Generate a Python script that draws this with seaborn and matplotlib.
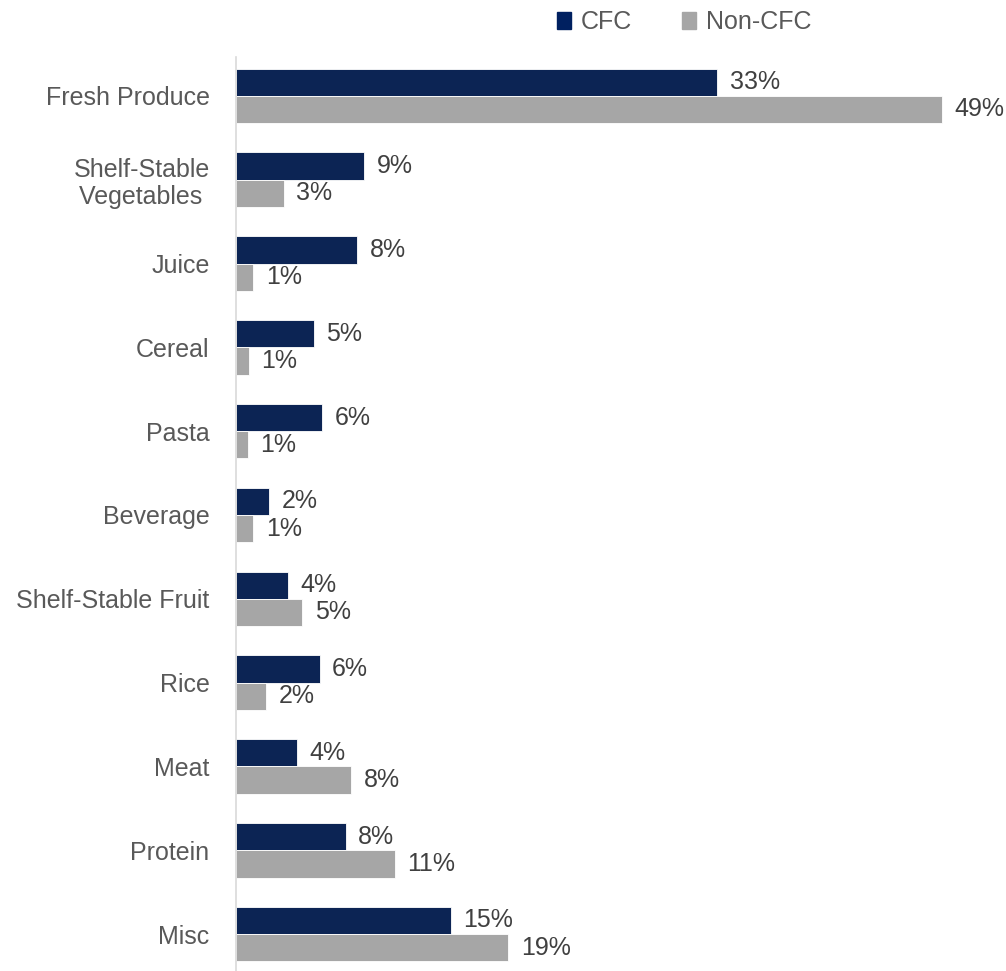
import pandas as pd
import matplotlib
matplotlib.use("Agg")
import matplotlib.pyplot as plt
import seaborn as sns

# data (percent of items)
categories = ["Fresh Produce", "Shelf-Stable\nVegetables ", "Juice", "Cereal", "Pasta",
              "Beverage", "Shelf-Stable Fruit", "Rice", "Meat", "Protein", "Misc"]
cfc = [33.4, 8.9, 8.4, 5.4, 6.0, 2.3, 3.6, 5.8, 4.2, 7.6, 14.9]
non_cfc = [49.0, 3.3, 1.2, 0.9, 0.8, 1.2, 4.6, 2.1, 8.0, 11.0, 18.9]
groups = ["CFC", "Non-CFC"]
colors = ["#002060", "#A6A6A6"]

df = pd.DataFrame({
    "Category": categories * 2,
    "Share": cfc + non_cfc,
    "Group": [groups[0]] * len(categories) + [groups[1]] * len(categories),
})

sns.set_style("white")
plt.rcParams["font.family"] = ["Liberation Sans", "DejaVu Sans"]

fig = plt.figure(figsize=(10.06, 9.71), dpi=100)
ax = fig.add_axes([0.2346, 0.0, 0.745, 0.941])

sns.barplot(data=df, y="Category", x="Share", hue="Group", order=categories,
            hue_order=groups, palette=colors, width=0.65, orient="h",
            edgecolor="white", linewidth=0.6, legend=False, ax=ax)

for cont in ax.containers:
    ax.bar_label(cont, labels=[f"{v:.0f}%" for v in cont.datavalues],
                 padding=9, fontsize=18, color="#404040")

ax.set_xlim(0, 52)
ax.set_ylim(10.44, -0.46)
ax.set_xlabel("")
ax.set_ylabel("")
ax.set_xticks([])
ax.tick_params(axis="y", length=0, pad=19, labelsize=18, labelcolor="#595959")
for lab in ax.get_yticklabels():
    lab.set_linespacing(1.15)
for s in ["top", "right", "bottom"]:
    ax.spines[s].set_visible(False)
ax.spines["left"].set_color("#D9D9D9")
ax.spines["left"].set_linewidth(1.2)

handles = [plt.Rectangle((0, 0), 1, 1, color=c) for c in colors]
fig.legend(handles, groups, loc="center", bbox_to_anchor=(0.68, 0.977), ncol=2,
           frameon=False, fontsize=18, labelcolor="#595959", handlelength=0.55,
           handleheight=0.7, handletextpad=0.4, columnspacing=2.0)

fig.savefig("out.png", dpi=100)
